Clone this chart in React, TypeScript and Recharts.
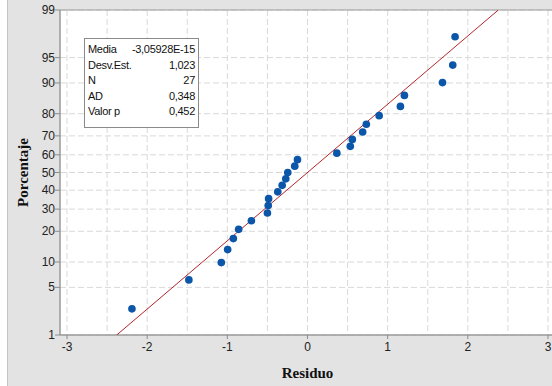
import { ScatterChart, Scatter, XAxis, YAxis, ZAxis, CartesianGrid, ReferenceArea } from 'recharts';

// Ordered residuals and their plotted cumulative percentages
const residuals = [
  -2.19, -1.48, -1.075, -0.996, -0.925, -0.859, -0.7, -0.5, -0.49, -0.485, -0.371, -0.316, -0.271, -0.246,
  -0.159, -0.125, 0.366, 0.534, 0.559, 0.688, 0.734, 0.894, 1.159, 1.209, 1.684, 1.812, 1.841,
];
const percents = [
  2.55, 6.2, 9.85, 13.5, 17.2, 20.8, 24.5, 28.1, 31.8, 35.4, 39.1, 42.7, 46.4, 50, 53.6, 57.3, 60.9, 64.6,
  68.2, 71.9, 75.5, 79.2, 82.8, 86.5, 90.1, 93.8, 97.4,
];

// Fitted normal line (mean ~0, sd 1,023) at the 1% and 99% ends
const fitResiduals = [-2.38, 2.38];
const fitPercents = [1, 99];

const pctTicks = [1, 5, 10, 20, 30, 40, 50, 60, 70, 80, 90, 95, 99];
const resTicks = [-3, -2.5, -2, -1.5, -1, -0.5, 0, 0.5, 1, 1.5, 2, 2.5, 3];

const statLabels = ['Media', 'Desv.Est.', 'N', 'AD', 'Valor p'];
const statValues = ['-3,05928E-15', '1,023', '27', '0,348', '0,452'];

// inverse standard normal CDF (Acklam) – gives the probability-paper y scale
function probit(p: number) {
  const a = [-39.69683028665376, 220.9460984245205, -275.9285104469687, 138.357751867269, -30.66479806614716, 2.506628277459239];
  const b = [-54.47609879822406, 161.5858368580409, -155.6989798598866, 66.80131188771972, -13.28068155288572];
  const c = [-0.007784894002430293, -0.3223964580411365, -2.400758277161838, -2.549671010229478, 4.374664141464968, 2.938163982698783];
  const d = [0.007784695709041462, 0.3224671290700398, 2.445134137142996, 3.754408661907416];
  const pl = 0.02425;
  if (p < pl) {
    const q = Math.sqrt(-2 * Math.log(p));
    return (((((c[0] * q + c[1]) * q + c[2]) * q + c[3]) * q + c[4]) * q + c[5]) / ((((d[0] * q + d[1]) * q + d[2]) * q + d[3]) * q + 1);
  }
  if (p > 1 - pl) {
    const q = Math.sqrt(-2 * Math.log(1 - p));
    return -(((((c[0] * q + c[1]) * q + c[2]) * q + c[3]) * q + c[4]) * q + c[5]) / ((((d[0] * q + d[1]) * q + d[2]) * q + d[3]) * q + 1);
  }
  const q = p - 0.5;
  const r = q * q;
  return ((((((a[0] * r + a[1]) * r + a[2]) * r + a[3]) * r + a[4]) * r + a[5]) * q) / (((((b[0] * r + b[1]) * r + b[2]) * r + b[3]) * r + b[4]) * r + 1);
}

const points = residuals.map((r, i) => ({ res: r, z: probit(percents[i] / 100) }));
const fitLine = fitResiduals.map((r, i) => ({ res: r, z: probit(fitPercents[i] / 100) }));

const Z_MIN = probit(0.01);
const Z_MAX = probit(0.99);
const X_MIN = -3.0875;
const X_MAX = 3.0875;
const zTicks = pctTicks.map((p) => probit(p / 100));

const TICK_FONT = '"Liberation Sans", Arial, sans-serif';
const TITLE_FONT = '"Liberation Serif", "Times New Roman", serif';

function ResTick(props: any) {
  const { x, y, payload } = props;
  if (!Number.isInteger(payload.value)) return <g />;
  return (
    <g>
      <line x1={x} x2={x} y1={y} y2={y + 4} stroke="#8c8c8c" />
      <text x={x} y={y + 16} textAnchor="middle" fontSize={12} fontFamily={TICK_FONT} fill="#222">
        {payload.value}
      </text>
    </g>
  );
}

function PctTick(props: any) {
  const { x, y, payload } = props;
  let best = 0;
  zTicks.forEach((z, i) => {
    if (Math.abs(z - payload.value) < Math.abs(zTicks[best] - payload.value)) best = i;
  });
  return (
    <g>
      <line x1={x - 5} x2={x} y1={y} y2={y} stroke="#8c8c8c" />
      <text x={x - 5} y={y + 4} textAnchor="end" fontSize={12} fontFamily={TICK_FONT} fill="#222">
        {pctTicks[best]}
      </text>
    </g>
  );
}

export default function App() {
  return (
    <div style={{ position: 'absolute', left: 0, top: 0, width: 552, height: 386, overflow: 'hidden', background: '#fff' }}>
      <div style={{ position: 'absolute', left: 7, top: 0, borderLeft: '1px solid #c4c4c4', background: '#e3e3e3' }}>
        <ScatterChart width={548} height={386} margin={{ top: 10, right: 1, bottom: 0, left: 0 }}>
          <CartesianGrid fill="#fff" stroke="#d9d9d9" strokeDasharray="6 3" horizontalValues={zTicks} verticalValues={resTicks} />
          <XAxis
            type="number"
            dataKey="res"
            domain={[X_MIN, X_MAX]}
            ticks={resTicks}
            interval={0}
            allowDataOverflow
            height={51}
            tickSize={0}
            tickMargin={0}
            tickLine={false}
            stroke="#9a9a9a"
            tick={<ResTick />}
            label={{ value: 'Residuo', position: 'insideBottom', offset: 8, fill: '#111', fontSize: 15, fontWeight: 'bold', fontFamily: TITLE_FONT }}
          />
          <YAxis
            type="number"
            dataKey="z"
            domain={[Z_MIN, Z_MAX]}
            ticks={zTicks}
            interval={0}
            allowDataOverflow
            width={52}
            tickSize={0}
            tickMargin={0}
            tickLine={false}
            stroke="#9a9a9a"
            tick={<PctTick />}
            label={{ value: 'Porcentaje', angle: -90, position: 'insideLeft', offset: 15, fill: '#111', fontSize: 15, fontWeight: 'bold', fontFamily: TITLE_FONT, style: { textAnchor: 'middle' } }}
          />
          <ZAxis range={[46, 46]} />
          <Scatter data={fitLine} line={{ stroke: '#b3262c', strokeWidth: 1 }} shape={() => <g />} isAnimationActive={false} legendType="none" />
          <Scatter data={points} fill="#0b56a8" isAnimationActive={false} />
          <ReferenceArea x1={X_MIN} x2={X_MAX} y1={Z_MIN} y2={Z_MAX} fill="none" stroke="#9a9a9a" ifOverflow="extendDomain" />
        </ScatterChart>
      </div>
      <div
        style={{
          position: 'absolute',
          left: 84,
          top: 38,
          width: 107,
          height: 85,
          border: '1px solid #8a8a8a',
          background: '#fff',
          fontFamily: TICK_FONT,
          fontSize: 11,
          color: '#111',
          letterSpacing: -0.3,
          padding: '3px 3px 0 3px',
          boxSizing: 'content-box',
        }}
      >
        {statLabels.map((l, i) => (
          <div key={l} style={{ display: 'flex', justifyContent: 'space-between', height: 15.6, lineHeight: '15.6px' }}>
            <span>{l}</span>
            <span>{statValues[i]}</span>
          </div>
        ))}
      </div>
    </div>
  );
}
